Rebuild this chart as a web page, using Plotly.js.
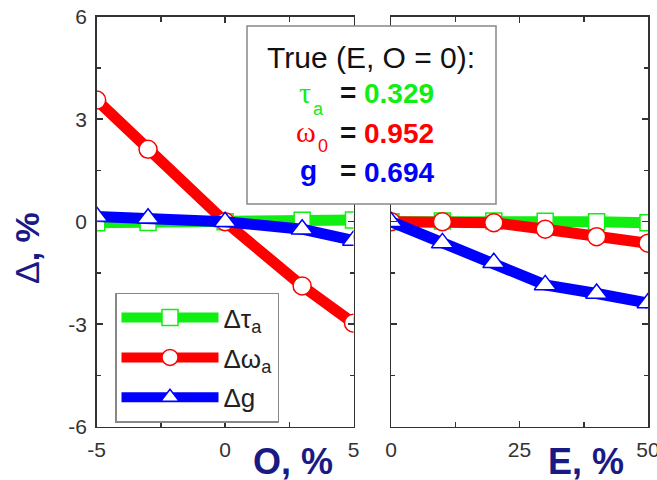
<!DOCTYPE html>
<html>
<head>
<meta charset="utf-8">
<script src="https://cdn.plot.ly/plotly-3.0.1.min.js"></script>
<style>html,body{margin:0;padding:0;background:#fff;}#chart{width:657px;height:480px;}</style>
</head>
<body>
<div id="chart"></div>
<script>
// ---- data ----
var O_pct = [-5, -3, 0, 3, 5];
var dTau_O = [-0.03, -0.02, 0, 0.04, 0.05];
var dOmega_O = [3.56, 2.12, 0, -1.88, -2.97];
var dG_O = [0.15, 0.1, 0, -0.22, -0.55];

var E_pct = [0, 10, 20, 30, 40, 50];
var dTau_E = [0, 0.02, 0.02, 0.01, 0.0, -0.03];
var dOmega_E = [0, 0, -0.03, -0.22, -0.44, -0.63];
var dG_E = [0, -0.62, -1.2, -1.85, -2.1, -2.38];

var seriesNames = ['Δτ<sub>a</sub>', 'Δω<sub>a</sub>', 'Δg'];
var trueLabel = 'True (E, O = 0):';
var trueValues = ['0.329', '0.952', '0.694'];

var oTickVals = [-5, 0, 5], oTickText = ['-5', '0', '5'];
var eTickVals = [0, 25, 50], eTickText = ['0', '25', '50'];
var yTickVals = [-6, -3, 0, 3, 6], yTickText = ['-6', '-3', '0', '3', '6'];

// ---- style ----
var GREEN = '#11ee11', RED = '#ff0000', BLUE = '#0000ff', NAVY = '#1a1a85';
var colors = [GREEN, RED, BLUE];
var symbols = ['square', 'circle', 'triangle-up'];
var msizes = [16, 18, 19];
var FONT = 'Liberation Sans, Arial, sans-serif';
var W = 657, H = 480;
function px(x){ return x / W; }
function py(y){ return 1 - y / H; }

function mk(x, y, i, xa, ya, show){
  return {
    x: x, y: y, xaxis: xa, yaxis: ya, type: 'scatter', mode: 'lines+markers',
    name: seriesNames[i], showlegend: show, legendgroup: 'g' + i,
    line: {color: colors[i], width: 11},
    marker: {symbol: symbols[i], size: msizes[i], color: '#ffffff', line: {color: colors[i], width: 1.5}},
    hoverinfo: 'x+y'
  };
}

var data = [
  mk(O_pct, dTau_O, 0, 'x', 'y', true),
  mk(O_pct, dOmega_O, 1, 'x', 'y', true),
  mk(O_pct, dG_O, 2, 'x', 'y', true),
  mk(E_pct, dTau_E, 0, 'x2', 'y2', false),
  mk(E_pct, dOmega_E, 1, 'x2', 'y2', false),
  mk(E_pct, dG_E, 2, 'x2', 'y2', false)
];

var axBase = {
  showgrid: false, zeroline: false, showline: true, linecolor: '#333', linewidth: 1.5,
  mirror: 'ticks', ticks: 'inside', ticklen: 6, tickwidth: 1.5, tickcolor: '#333',
  tickfont: {family: FONT, size: 21, color: '#333'}, fixedrange: true,
  tickmode: 'array', ticklabeloverflow: 'allow'
};
function ax(extra){ return Object.assign({}, axBase, extra); }
function minor(d, len){ return {ticks: 'inside', tickmode: 'linear', tick0: 0, dtick: d, ticklen: len, tickwidth: 1.5, tickcolor: '#333'}; }

var ydom = [py(426.7), py(16.7)];

var layout = {
  width: W, height: H,
  margin: {l: 0, r: 0, t: 0, b: 0},
  paper_bgcolor: '#ffffff', plot_bgcolor: '#ffffff',
  font: {family: FONT},
  showlegend: true,
  xaxis: ax({domain: [px(96.7), px(353.5)], range: [-5, 5], tickvals: oTickVals, ticktext: oTickText,
    anchor: 'y', ticklabelstandoff: 4, minor: minor(2.5, 5)}),
  yaxis: ax({domain: ydom, range: [-6, 6], tickvals: yTickVals, ticktext: yTickText, anchor: 'x',
    ticklabelstandoff: 4, minor: minor(1.5, 4)}),
  xaxis2: ax({domain: [px(391), px(648)], range: [0, 50], tickvals: eTickVals, ticktext: eTickText,
    anchor: 'y2', ticklabelstandoff: 4, minor: minor(12.5, 5)}),
  yaxis2: ax({domain: ydom, range: [-6, 6], tickvals: yTickVals, ticktext: yTickText, anchor: 'x2',
    showticklabels: false, minor: minor(1.5, 4)}),
  legend: {
    x: px(115), y: py(292.7), xanchor: 'left', yanchor: 'top',
    bgcolor: '#ffffff', bordercolor: '#888', borderwidth: 1.5,
    font: {family: FONT, size: 26, color: '#222'},
    itemwidth: 97, tracegroupgap: 3, itemclick: false, itemdoubleclick: false
  },
  shapes: [
    {type: 'rect', xref: 'paper', yref: 'paper', x0: px(247), x1: px(496), y0: py(204), y1: py(26),
     fillcolor: '#ffffff', line: {color: '#888', width: 1.5}, layer: 'above'}
  ],
  annotations: []
};

var A = layout.annotations;
function ann(text, x, y, opts){
  A.push(Object.assign({text: text, xref: 'paper', yref: 'paper', x: px(x), y: py(y),
    showarrow: false, xanchor: 'left', yanchor: 'middle', font: {family: FONT, size: 28, color: '#111'}}, opts || {}));
}
// axis titles
ann('<b>O, %</b>', 293, 461, {xanchor: 'center', font: {family: FONT, size: 36, color: NAVY}});
ann('<b>E, %</b>', 586, 461, {xanchor: 'center', font: {family: FONT, size: 36, color: NAVY}});
ann('Δ<b>, %</b>', 27, 248, {xanchor: 'center', textangle: -90, font: {family: FONT, size: 34, color: NAVY}});
// text box
ann(trueLabel, 370.5, 57, {xanchor: 'center', font: {family: FONT, size: 30, color: '#111'}});
var rowsY = [94, 133, 172];
ann('τ', 297, 93, {font: {family: 'Liberation Serif, serif', size: 30, color: GREEN}});
ann('a', 311, 109, {font: {family: FONT, size: 18, color: GREEN}});
ann('ω', 294, 131, {font: {family: 'Liberation Serif, serif', size: 30, color: RED}});
ann('0', 316, 146, {font: {family: FONT, size: 18, color: RED}});
ann('<b>g</b>', 298, 170, {font: {family: FONT, size: 28, color: BLUE}});
for (var i = 0; i < 3; i++) {
  ann('<b>=</b>', 338, rowsY[i] - 1, {font: {family: FONT, size: 28, color: '#111'}});
  ann('<b>' + trueValues[i] + '</b>', 362, rowsY[i], {font: {family: FONT, size: 28, color: colors[i]}});
}

Plotly.newPlot('chart', data, layout, {displayModeBar: false, staticPlot: true});
</script>
</body>
</html>
